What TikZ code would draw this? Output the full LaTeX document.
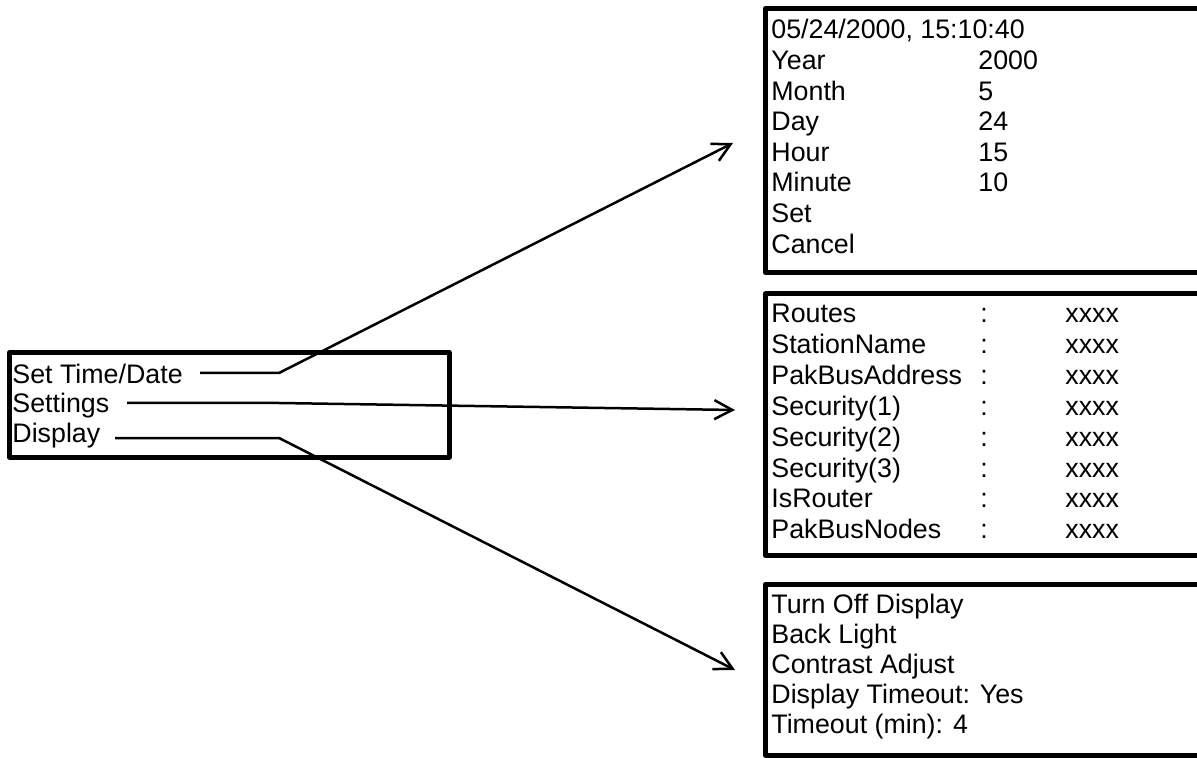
\documentclass[tikz,border=0pt]{standalone}
\usepackage{fontspec}
\setmainfont{Liberation Sans}
\usetikzlibrary{arrows.meta}
\begin{document}
\begin{tikzpicture}[x=0.5pt,y=-0.5pt,
  txt/.style={anchor=base west,inner sep=0pt,font=\fontsize{13.4}{16}\selectfont},
  frame/.style={line width=2.5pt,line join=round},
  conn/.style={line width=1.25pt,-{Straight Barb[length=9pt,width=9.5pt]}}]
\useasboundingbox (0,0) rectangle (1197,758);
\clip (0,0) rectangle (1197,758);
% frames
\draw[frame] (9.5,352.5) rectangle (449,457);
\draw[frame] (765.5,8.5) rectangle (1230,272.5);
\draw[frame] (765.5,294) rectangle (1230,555.5);
\draw[frame] (765.5,584) rectangle (1230,755);
% left menu
\node[txt] (m1) at (12,384) {Set Time/Date};
\node[txt] (m2) at (12,413) {Settings};
\node[txt] (m3) at (12,442) {Display};
% top box
\node[txt] (t0) at (771,39) {05/24/2000, 15:10:40};
\node[txt] (t1) at (771,69.6) {Year};     \node[txt] (v1) at (978,69.6) {2000};
\node[txt] (t2) at (771,100.2) {Month};   \node[txt] (v2) at (978,100.2) {5};
\node[txt] (t3) at (771,130.8) {Day};     \node[txt] (v3) at (978,130.8) {24};
\node[txt] (t4) at (771,161.4) {Hour};    \node[txt] (v4) at (978,161.4) {15};
\node[txt] (t5) at (771,192) {Minute};    \node[txt] (v5) at (978,192) {10};
\node[txt] (t6) at (771,222.6) {Set};
\node[txt] (t7) at (771,253.2) {Cancel};
% middle box
\foreach \lab [count=\i from 0] in {Routes,StationName,PakBusAddress,Security(1),Security(2),Security(3),IsRouter,PakBusNodes}{
  \node[txt] (s\i) at (771,{323+30.8*\i}) {\lab};
  \node[txt] (c\i) at (980,{323+30.8*\i}) {:};
  \node[txt] (x\i) at (1065,{323+30.8*\i}) {xxxx};
}
% bottom box
\node[txt] (d1) at (771,613) {Turn Off Display};
\node[txt] (d2) at (771,643) {Back Light};
\node[txt] (d3) at (771,673) {Contrast Adjust};
\node[txt] (d4) at (771,703) {Display Timeout: Yes};
\node[txt] (d5) at (771,733) {Timeout (min): 4};
% connectors
\coordinate (a1) at (200,373); \coordinate (k1) at (279,373); \coordinate (e1) at (733,143);
\coordinate (a2) at (127,403); \coordinate (k2) at (279,403); \coordinate (e2) at (735,410);
\coordinate (a3) at (115,438); \coordinate (k3) at (279,438); \coordinate (e3) at (735,670);
\draw[conn] (a1) -- (k1) -- (e1);
\draw[conn] (a2) -- (k2) -- (e2);
\draw[conn] (a3) -- (k3) -- (e3);
\end{tikzpicture}
\end{document}
